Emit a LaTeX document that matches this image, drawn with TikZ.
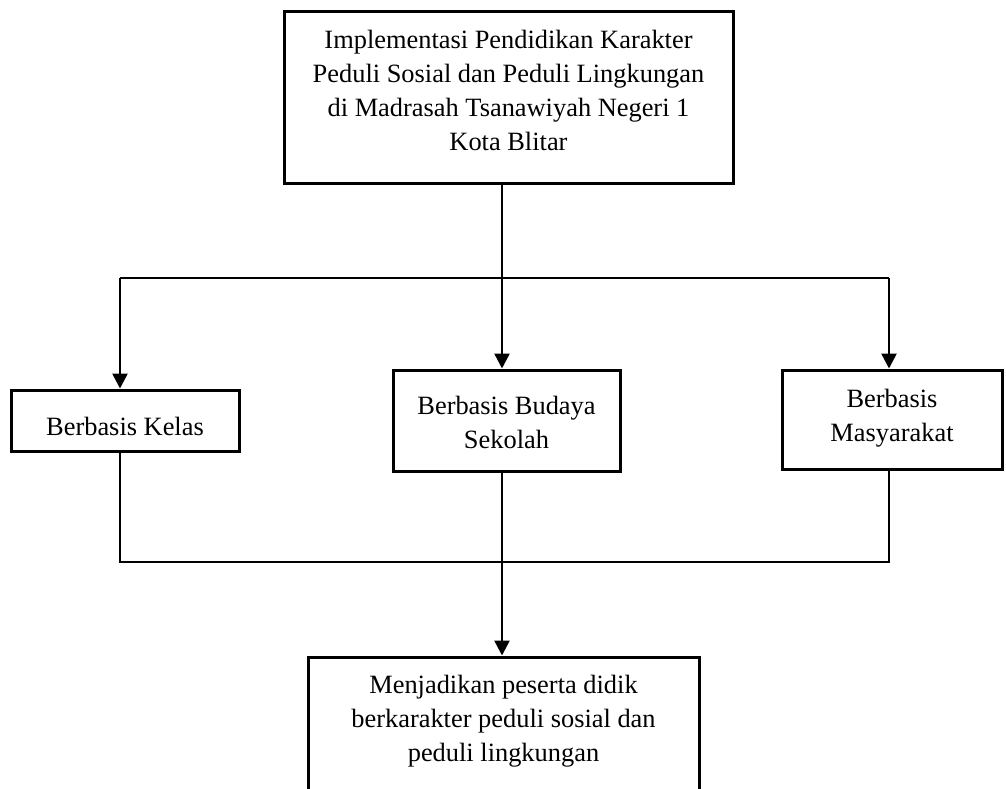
\documentclass[tikz,border=0pt]{standalone}
\usepackage{fontspec}
\setmainfont{Liberation Serif}
\usetikzlibrary{arrows.meta}
\begin{document}
\begin{tikzpicture}[x=1pt,y=-1pt,
  boxnode/.style={draw, line width=3pt, inner sep=0pt},
  txt/.style={align=center, inner sep=0pt, font=\fontsize{26.4}{34}\selectfont},
  arrowline/.style={line width=2.6pt, -{Triangle[length=15pt,width=15pt]}},
  stemline/.style={line width=2.6pt},
  thinline/.style={line width=1.6pt}]
\useasboundingbox (0,0) rectangle (1006,789);
\clip (0,0) rectangle (1006,789);
% boxes
\node[boxnode, minimum width=449pt, minimum height=171pt] (top) at (508.5,97.5) {};
\node[boxnode, minimum width=228pt, minimum height=61pt] (left) at (125,420.5) {};
\node[boxnode, minimum width=227pt, minimum height=101pt] (mid) at (506.5,420.5) {};
\node[boxnode, minimum width=220pt, minimum height=99pt] (right) at (892,419.5) {};
\node[boxnode, minimum width=391pt, minimum height=173pt] (bot) at (503.5,743.5) {};
% texts
\node[txt, anchor=north] (toptxt) at (508.5,29.5) {Implementasi Pendidikan Karakter\\Peduli Sosial dan Peduli Lingkungan\\di Madrasah Tsanawiyah Negeri 1\\Kota Blitar};
\node[txt, anchor=base] (lefttxt) at (125,435) {Berbasis Kelas};
\node[txt, anchor=north] (midtxt) at (506.5,396) {Berbasis Budaya\\Sekolah};
\node[txt, anchor=north] (righttxt) at (892,389) {Berbasis\\Masyarakat};
\node[txt, anchor=north] (bottxt) at (503.5,675) {Menjadikan peserta didik\\berkarakter peduli sosial dan\\peduli lingkungan};
% junction points
\coordinate (jt) at (502,278);
\coordinate (jl) at (120,278);
\coordinate (jr) at (889,278);
\coordinate (bl) at (120,562);
\coordinate (br) at (889,562);
\coordinate (bc) at (502,562);
% connectors
\draw[stemline] (top.south -| jt) -- (jt);
\draw[thinline] (jl) -- (jr);
\draw[arrowline] (jt) -- (mid.north -| jt);
\draw[arrowline] (jl) -- (left.north -| jl);
\draw[arrowline] (jr) -- (right.north -| jr);
\draw[thinline] (left.south -| bl) -- (bl) -- (br) -- (right.south -| br);
\draw[arrowline] (mid.south -| bc) -- (bot.north -| bc);
\end{tikzpicture}
\end{document}
